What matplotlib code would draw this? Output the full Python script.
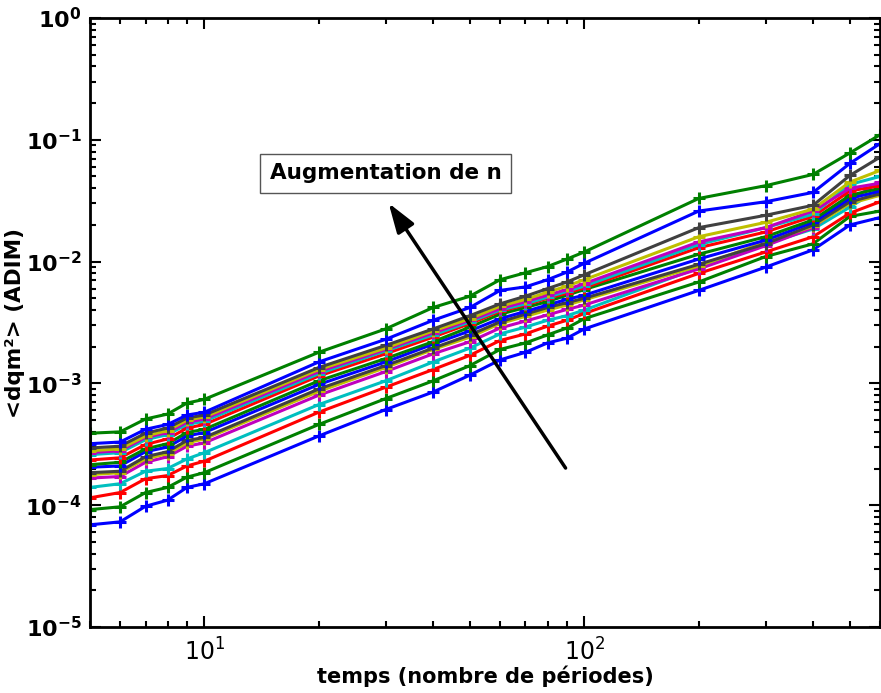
import matplotlib

matplotlib.use("Agg")
import matplotlib.pyplot as plt
import numpy as np
from matplotlib.ticker import FuncFormatter, LogLocator, NullFormatter

FIGSIZE: tuple[float, float] = (8.81, 6.93)
DPI: int = 100

# temps (nombre de periodes)
TEMPS = [5, 6, 7, 8, 9, 10, 20, 30, 40, 50, 60, 70, 80, 90, 100, 200, 300, 400, 500, 600]

# <dqm^2> for each value of n, from the smallest n (bottom) to the largest (top)
DQM_N01 = [6.9e-5, 7.3e-5, 9.8e-5, 1.1e-4, 1.4e-4, 1.5e-4, 3.7e-4, 6.1e-4, 8.5e-4, 1.17e-3,
           1.56e-3, 1.8e-3, 2.15e-3, 2.35e-3, 2.8e-3, 5.8e-3, 9.0e-3, 1.25e-2, 2.0e-2, 2.3e-2]
DQM_N02 = [9.2e-5, 9.7e-5, 1.27e-4, 1.4e-4, 1.7e-4, 1.85e-4, 4.6e-4, 7.5e-4, 1.05e-3, 1.4e-3,
           1.9e-3, 2.15e-3, 2.5e-3, 2.85e-3, 3.4e-3, 6.8e-3, 1.1e-2, 1.4e-2, 2.35e-2, 2.6e-2]
DQM_N03 = [1.15e-4, 1.27e-4, 1.65e-4, 1.75e-4, 2.1e-4, 2.3e-4, 5.8e-4, 9.3e-4, 1.3e-3, 1.7e-3,
           2.25e-3, 2.55e-3, 2.95e-3, 3.3e-3, 3.75e-3, 8.0e-3, 1.2e-2, 1.6e-2, 2.5e-2, 3.1e-2]
DQM_N04 = [1.4e-4, 1.5e-4, 1.9e-4, 2.0e-4, 2.4e-4, 2.7e-4, 6.7e-4, 1.05e-3, 1.5e-3, 1.95e-3,
           2.55e-3, 2.9e-3, 3.3e-3, 3.6e-3, 4.0e-3, 8.9e-3, 1.4e-2, 1.85e-2, 2.8e-2, 4.0e-2]
DQM_N05 = [1.67e-4, 1.72e-4, 2.25e-4, 2.5e-4, 3.05e-4, 3.25e-4, 8.0e-4, 1.25e-3, 1.75e-3, 2.2e-3,
           2.85e-3, 3.25e-3, 3.65e-3, 4.05e-3, 4.4e-3, 8.7e-3, 1.35e-2, 1.9e-2, 3.2e-2, 4.5e-2]
DQM_N06 = [1.78e-4, 1.85e-4, 2.4e-4, 2.65e-4, 3.25e-4, 3.5e-4, 8.6e-4, 1.35e-3, 1.9e-3, 2.4e-3,
           3.1e-3, 3.55e-3, 4.0e-3, 4.4e-3, 4.85e-3, 9.2e-3, 1.45e-2, 1.95e-2, 3.0e-2, 3.5e-2]
DQM_N07 = [1.85e-4, 1.9e-4, 2.5e-4, 2.75e-4, 3.4e-4, 3.6e-4, 9.0e-4, 1.4e-3, 1.95e-3, 2.5e-3,
           3.2e-3, 3.7e-3, 4.2e-3, 4.6e-3, 5.0e-3, 9.5e-3, 1.4e-2, 2.0e-2, 3.1e-2, 3.6e-2]
DQM_N08 = [2.05e-4, 2.1e-4, 2.75e-4, 3.0e-4, 3.7e-4, 3.95e-4, 9.8e-4, 1.5e-3, 2.1e-3, 2.7e-3,
           3.4e-3, 3.9e-3, 4.4e-3, 4.9e-3, 5.3e-3, 1.05e-2, 1.5e-2, 2.1e-2, 3.3e-2, 3.8e-2]
DQM_N09 = [2.15e-4, 2.25e-4, 2.9e-4, 3.2e-4, 3.95e-4, 4.2e-4, 1.05e-3, 1.6e-3, 2.2e-3, 2.9e-3,
           3.7e-3, 4.2e-3, 4.7e-3, 5.3e-3, 5.9e-3, 1.15e-2, 1.6e-2, 2.2e-2, 3.5e-2, 4.0e-2]
DQM_N10 = [2.35e-4, 2.45e-4, 3.15e-4, 3.5e-4, 4.3e-4, 4.6e-4, 1.15e-3, 1.75e-3, 2.4e-3, 3.1e-3,
           3.9e-3, 4.4e-3, 5.0e-3, 5.5e-3, 6.1e-3, 1.3e-2, 1.75e-2, 2.35e-2, 3.8e-2, 4.2e-2]
DQM_N11 = [2.6e-4, 2.7e-4, 3.45e-4, 3.8e-4, 4.6e-4, 4.9e-4, 1.2e-3, 1.85e-3, 2.5e-3, 3.2e-3,
           4.0e-3, 4.5e-3, 5.1e-3, 5.7e-3, 6.3e-3, 1.38e-2, 1.9e-2, 2.45e-2, 4.3e-2, 5.0e-2]
DQM_N12 = [2.7e-4, 2.8e-4, 3.6e-4, 3.95e-4, 4.8e-4, 5.1e-4, 1.25e-3, 1.9e-3, 2.6e-3, 3.3e-3,
           4.1e-3, 4.7e-3, 5.3e-3, 5.9e-3, 6.6e-3, 1.45e-2, 1.9e-2, 2.6e-2, 4.0e-2, 4.4e-2]
DQM_N13 = [2.8e-4, 2.9e-4, 3.7e-4, 4.1e-4, 5.0e-4, 5.3e-4, 1.3e-3, 1.95e-3, 2.7e-3, 3.4e-3,
           4.3e-3, 4.9e-3, 5.6e-3, 6.3e-3, 7.1e-3, 1.6e-2, 2.1e-2, 2.7e-2, 4.5e-2, 5.6e-2]
DQM_N14 = [2.95e-4, 3.05e-4, 3.9e-4, 4.3e-4, 5.2e-4, 5.5e-4, 1.35e-3, 2.05e-3, 2.8e-3, 3.6e-3,
           4.5e-3, 5.2e-3, 6.0e-3, 6.8e-3, 7.8e-3, 1.9e-2, 2.4e-2, 2.9e-2, 5.1e-2, 7.2e-2]
DQM_N15 = [3.2e-4, 3.3e-4, 4.2e-4, 4.6e-4, 5.5e-4, 5.8e-4, 1.5e-3, 2.3e-3, 3.3e-3, 4.2e-3,
           5.8e-3, 6.2e-3, 7.1e-3, 8.2e-3, 9.7e-3, 2.6e-2, 3.1e-2, 3.7e-2, 6.4e-2, 9.3e-2]
DQM_N16 = [3.9e-4, 4.0e-4, 5.1e-4, 5.6e-4, 6.9e-4, 7.4e-4, 1.8e-3, 2.8e-3, 4.2e-3, 5.2e-3,
           7.1e-3, 8.1e-3, 9.1e-3, 1.05e-2, 1.2e-2, 3.3e-2, 4.2e-2, 5.2e-2, 7.8e-2, 1.1e-1]

CURVES = [DQM_N01, DQM_N02, DQM_N03, DQM_N04, DQM_N05, DQM_N06, DQM_N07, DQM_N08,
          DQM_N09, DQM_N10, DQM_N11, DQM_N12, DQM_N13, DQM_N14, DQM_N15, DQM_N16]

# MATLAB-like colour order
COLORS = ["#0000FF", "#008000", "#FF0000", "#00BFBF", "#BF00BF", "#BFBF00", "#404040"]

ANNOTATION_TEXT = "Augmentation de n"
XLABEL = "temps (nombre de périodes)"
YLABEL = "<dqm²> (ADIM)"


def main() -> None:
    plt.rcParams["mathtext.fontset"] = "dejavusans"

    fig = plt.figure(figsize=FIGSIZE, dpi=DPI)
    ax = fig.add_axes([90 / 881, 66 / 693, 790 / 881, 609 / 693])

    for i, curve in enumerate(CURVES):
        ax.plot(
            TEMPS,
            curve,
            color=COLORS[i % len(COLORS)],
            linewidth=2.2,
            marker="+",
            markersize=9,
            markeredgewidth=2.2,
        )

    ax.set_xscale("log")
    ax.set_yscale("log")
    ax.set_xlim(5, 600)
    ax.set_ylim(1e-5, 1)

    ax.yaxis.set_major_locator(LogLocator(base=10))
    ax.yaxis.set_minor_locator(LogLocator(base=10, subs=np.arange(2, 10)))
    ax.xaxis.set_minor_locator(LogLocator(base=10, subs=np.arange(2, 10)))
    ax.xaxis.set_minor_formatter(NullFormatter())
    ax.yaxis.set_minor_formatter(NullFormatter())

    ax.yaxis.set_major_formatter(
        FuncFormatter(lambda v, _: r"$\mathbf{10^{%d}}$" % int(round(np.log10(v))))
    )
    ax.xaxis.set_major_formatter(
        FuncFormatter(lambda v, _: r"$\mathregular{10^{%d}}$" % int(round(np.log10(v))))
    )

    ax.tick_params(which="both", direction="in", top=True, right=True, width=1.5)
    ax.tick_params(which="major", length=8)
    ax.tick_params(which="minor", length=4)
    ax.tick_params(axis="y", which="major", labelsize=16, pad=6)
    ax.tick_params(axis="x", which="major", labelsize=17, pad=8)
    for spine in ax.spines.values():
        spine.set_linewidth(2)

    ax.set_xlabel(XLABEL, fontsize=15, fontweight="bold", labelpad=0)
    ax.set_ylabel(YLABEL, fontsize=15.5, fontweight="bold", labelpad=0)

    ax.annotate(
        "",
        xy=(0.378, 0.696),
        xytext=(0.602, 0.261),
        xycoords="axes fraction",
        textcoords="axes fraction",
        arrowprops=dict(
            arrowstyle="-|>,head_width=0.3,head_length=0.9",
            color="black",
            lw=2.5,
            mutation_scale=20,
            shrinkA=0,
            shrinkB=0,
        ),
    )
    ax.text(
        0.374,
        0.745,
        ANNOTATION_TEXT,
        transform=ax.transAxes,
        ha="center",
        va="center",
        fontsize=15.5,
        fontweight="bold",
        bbox=dict(boxstyle="square,pad=0.45", facecolor="white", edgecolor="#555555", linewidth=1),
    )

    fig.savefig("out.png", dpi=DPI)
    plt.close(fig)


if __name__ == "__main__":
    main()
